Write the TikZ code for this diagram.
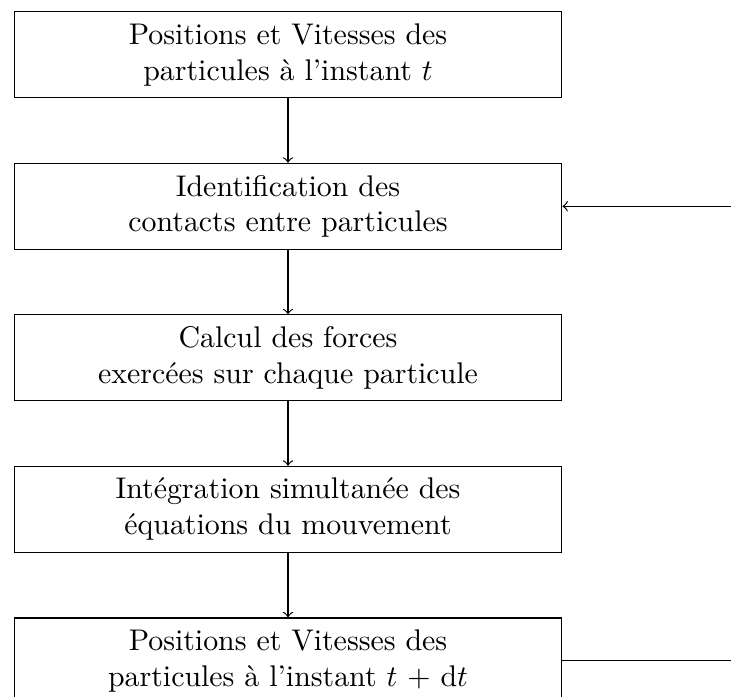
\documentclass[tikz,border=0pt]{standalone}
\usepackage{tikz}
\usetikzlibrary{positioning,arrows}
\usepackage{amsmath}

\begin{document}
\begin{tikzpicture}[etape/.style={draw,rectangle,align=center,minimum width=6.44cm,minimum height=1.01cm},node distance=0.758cm]

\useasboundingbox (-3.387,0.644) rectangle (5.21,-7.552);

\node[etape] (debut) at (0,0) {Positions et Vitesses des\\particules à l'instant $t$};
\node[etape,below=of debut] (contacts) {Identification des\\contacts entre particules};
\node[etape,below=of contacts] (forces) {Calcul des forces\\exercées sur chaque particule};
\node[etape,below=of forces] (integ) {Intégration simultanée des\\équations du mouvement};
\node[etape,below=of integ] (fin) {Positions et Vitesses des\\particules à l'instant $t$ + d$t$};
\draw[->] (debut) -- (contacts);
\draw[->] (contacts) -- (forces);
\draw[->] (forces) -- (integ);
\draw[->] (integ) -- (fin);
\draw[->] (fin.east) -- ++(2.05,0) |- (contacts.east);

\end{tikzpicture}
\end{document}
